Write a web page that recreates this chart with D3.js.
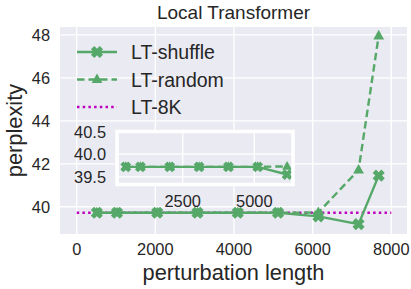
<!DOCTYPE html>
<html>
<head>
<meta charset="utf-8">
<script src="https://cdn.jsdelivr.net/npm/d3@7"></script>
<style>
body{margin:0;background:#fff;}
text{font-family:"Liberation Sans",Arial,sans-serif;fill:#262626;}
</style>
</head>
<body>
<svg id="chart" width="411" height="289"></svg>
<script>
// perturbation lengths
var lengths = [512, 1024, 2048, 3072, 4096, 5120, 6144, 7168, 7680];
var shuffleVals = [39.72, 39.72, 39.72, 39.72, 39.72, 39.72, 39.55, 39.19, 41.45];
var randomVals = [39.72, 39.72, 39.72, 39.72, 39.72, 39.72, 39.73, 41.71, 47.96];
var baseline8k = 39.72;
var baselineRange = [0, 8000];
var xTicks = [0, 2000, 4000, 6000, 8000];
var yTicks = [40, 42, 44, 46, 48];
var insetXTicks = [2500, 5000];
var insetYTicks = [39.5, 40.0, 40.5];
var insetCount = 7;
var seriesNames = ['LT-shuffle', 'LT-random', 'LT-8K'];

var green = '#55a868', magenta = '#bf00bf', bg = '#eaeaf2';
var svg = d3.select('#chart');
var plot = {left: 60, right: 407, top: 27, bottom: 234};

var x = d3.scaleLinear().domain([-425, 8400]).range([plot.left, plot.right]);
var y = d3.scaleLinear().domain([38.73, 48.37]).range([plot.bottom, plot.top]);

function xMarker(s){
	var a = s, b = s * 0.38, pts = [[b,a],[b,b],[a,b],[a,-b],[b,-b],[b,-a],[-b,-a],[-b,-b],[-a,-b],[-a,b],[-b,b],[-b,a]];
	var c = Math.SQRT1_2;
	return 'M' + pts.map(function(p){ return [(p[0]-p[1])*c, (p[0]+p[1])*c].join(','); }).join('L') + 'Z';
}
function triMarker(s){
	return 'M0,' + (-s) + 'L' + (s*0.9) + ',' + (s*0.6) + 'L' + (-s*0.9) + ',' + (s*0.6) + 'Z';
}

function drawAxes(g, xs, ys, xt, yt){
	var r = [xs.range()[0], xs.range()[1]], rr = [ys.range()[1], ys.range()[0]];
	g.append('rect').attr('x', r[0]).attr('y', rr[0]).attr('width', r[1]-r[0]).attr('height', rr[1]-rr[0]).attr('fill', bg);
	g.selectAll('.vg').data(xt).enter().append('line')
		.attr('x1', function(d){ return xs(d); }).attr('x2', function(d){ return xs(d); })
		.attr('y1', rr[0]).attr('y2', rr[1]).attr('stroke', '#fff').attr('stroke-width', 1.3);
	g.selectAll('.hg').data(yt).enter().append('line')
		.attr('y1', function(d){ return ys(d); }).attr('y2', function(d){ return ys(d); })
		.attr('x1', r[0]).attr('x2', r[1]).attr('stroke', '#fff').attr('stroke-width', 1.3);
}

// main axes
var main = svg.append('g');
drawAxes(main, x, y, xTicks, yTicks);

main.selectAll('.xt').data(xTicks).enter().append('text')
	.attr('x', function(d){ return x(d); }).attr('y', 255).attr('text-anchor', 'middle')
	.attr('font-size', 16.4).text(function(d){ return d; });
main.selectAll('.yt').data(yTicks).enter().append('text')
	.attr('x', 50).attr('y', function(d){ return y(d) + 6; }).attr('text-anchor', 'end')
	.attr('font-size', 16.4).text(function(d){ return d; });

svg.append('text').attr('x', (plot.left+plot.right)/2).attr('y', 280).attr('text-anchor', 'middle')
	.attr('font-size', 21.8).text('perturbation length');
svg.append('text').attr('transform', 'translate(22,' + ((plot.top+plot.bottom)/2) + ') rotate(-90)')
	.attr('text-anchor', 'middle').attr('font-size', 21.8).text('perplexity');
svg.append('text').attr('x', (plot.left+plot.right)/2).attr('y', 19).attr('text-anchor', 'middle')
	.attr('font-size', 19).text('Local Transformer');

function drawSeries(g, xs, ys, xv, yv, dash, marker, ms, lw){
	var line = d3.line().x(function(d){ return xs(d[0]); }).y(function(d){ return ys(d[1]); });
	var pts = xv.map(function(v, i){ return [v, yv[i]]; });
	g.append('path').datum(pts).attr('d', line).attr('fill', 'none')
		.attr('stroke', green).attr('stroke-width', lw).attr('stroke-dasharray', dash);
	g.selectAll(null).data(pts).enter().append('path')
		.attr('transform', function(d){ return 'translate(' + xs(d[0]) + ',' + ys(d[1]) + ')'; })
		.attr('d', marker(ms)).attr('fill', green);
}

// baseline
main.append('line').attr('x1', x(baselineRange[0])).attr('x2', x(baselineRange[1]))
	.attr('y1', y(baseline8k)).attr('y2', y(baseline8k))
	.attr('stroke', magenta).attr('stroke-width', 2.5).attr('stroke-dasharray', '2.5,3.2');
drawSeries(main, x, y, lengths, shuffleVals, null, xMarker, 6.2, 2.4);
drawSeries(main, x, y, lengths, randomVals, '7.5,4', triMarker, 6, 2.4);

// legend
var legend = svg.append('g');
var legY = [52, 79.5, 107];
[0, 1, 2].forEach(function(i){
	var ly = legY[i];
	var dash = i == 0 ? null : (i == 1 ? '7.5,4' : '2.5,3.2');
	legend.append('line').attr('x1', 77).attr('x2', 117).attr('y1', ly).attr('y2', ly)
		.attr('stroke', i == 2 ? magenta : green).attr('stroke-width', i == 2 ? 2.5 : 2.4)
		.attr('stroke-dasharray', dash);
	if(i < 2){
		legend.append('path').attr('transform', 'translate(97,' + ly + ')')
			.attr('d', i == 0 ? xMarker(6.2) : triMarker(6)).attr('fill', green);
	}
	legend.append('text').attr('x', 131).attr('y', ly + 7).attr('font-size', 19.5).text(seriesNames[i]);
});

// inset
var ix = d3.scaleLinear().domain([206, 6351]).range([117, 293]);
var iy = d3.scaleLinear().domain([39.33, 40.5]).range([184.5, 131.5]);
var inset = svg.append('g');
drawAxes(inset, ix, iy, insetXTicks, insetYTicks);
var iclip = inset.append('clipPath').attr('id', 'iclip');
iclip.append('rect').attr('x', 117).attr('y', 131.5).attr('width', 176).attr('height', 53);
var iplot = inset.append('g').attr('clip-path', 'url(#iclip)');
drawSeries(iplot, ix, iy, lengths.slice(0, insetCount), shuffleVals.slice(0, insetCount), null, xMarker, 5.5, 2.4);
drawSeries(iplot, ix, iy, lengths.slice(0, insetCount), randomVals.slice(0, insetCount), '7.5,4', triMarker, 5.5, 2.4);
inset.append('rect').attr('x', 117).attr('y', 131.5).attr('width', 176).attr('height', 53)
	.attr('fill', 'none').attr('stroke', '#fff').attr('stroke-width', 3.5);
inset.selectAll('.ixt').data(insetXTicks).enter().append('text')
	.attr('x', function(d){ return ix(d); }).attr('y', 207).attr('text-anchor', 'middle')
	.attr('font-size', 16.4).text(function(d){ return d; });
inset.selectAll('.iyt').data(insetYTicks).enter().append('text')
	.attr('x', 106).attr('y', function(d){ return iy(d) + 6; }).attr('text-anchor', 'end')
	.attr('font-size', 16.4).text(function(d){ return d.toFixed(1); });
</script>
</body>
</html>
